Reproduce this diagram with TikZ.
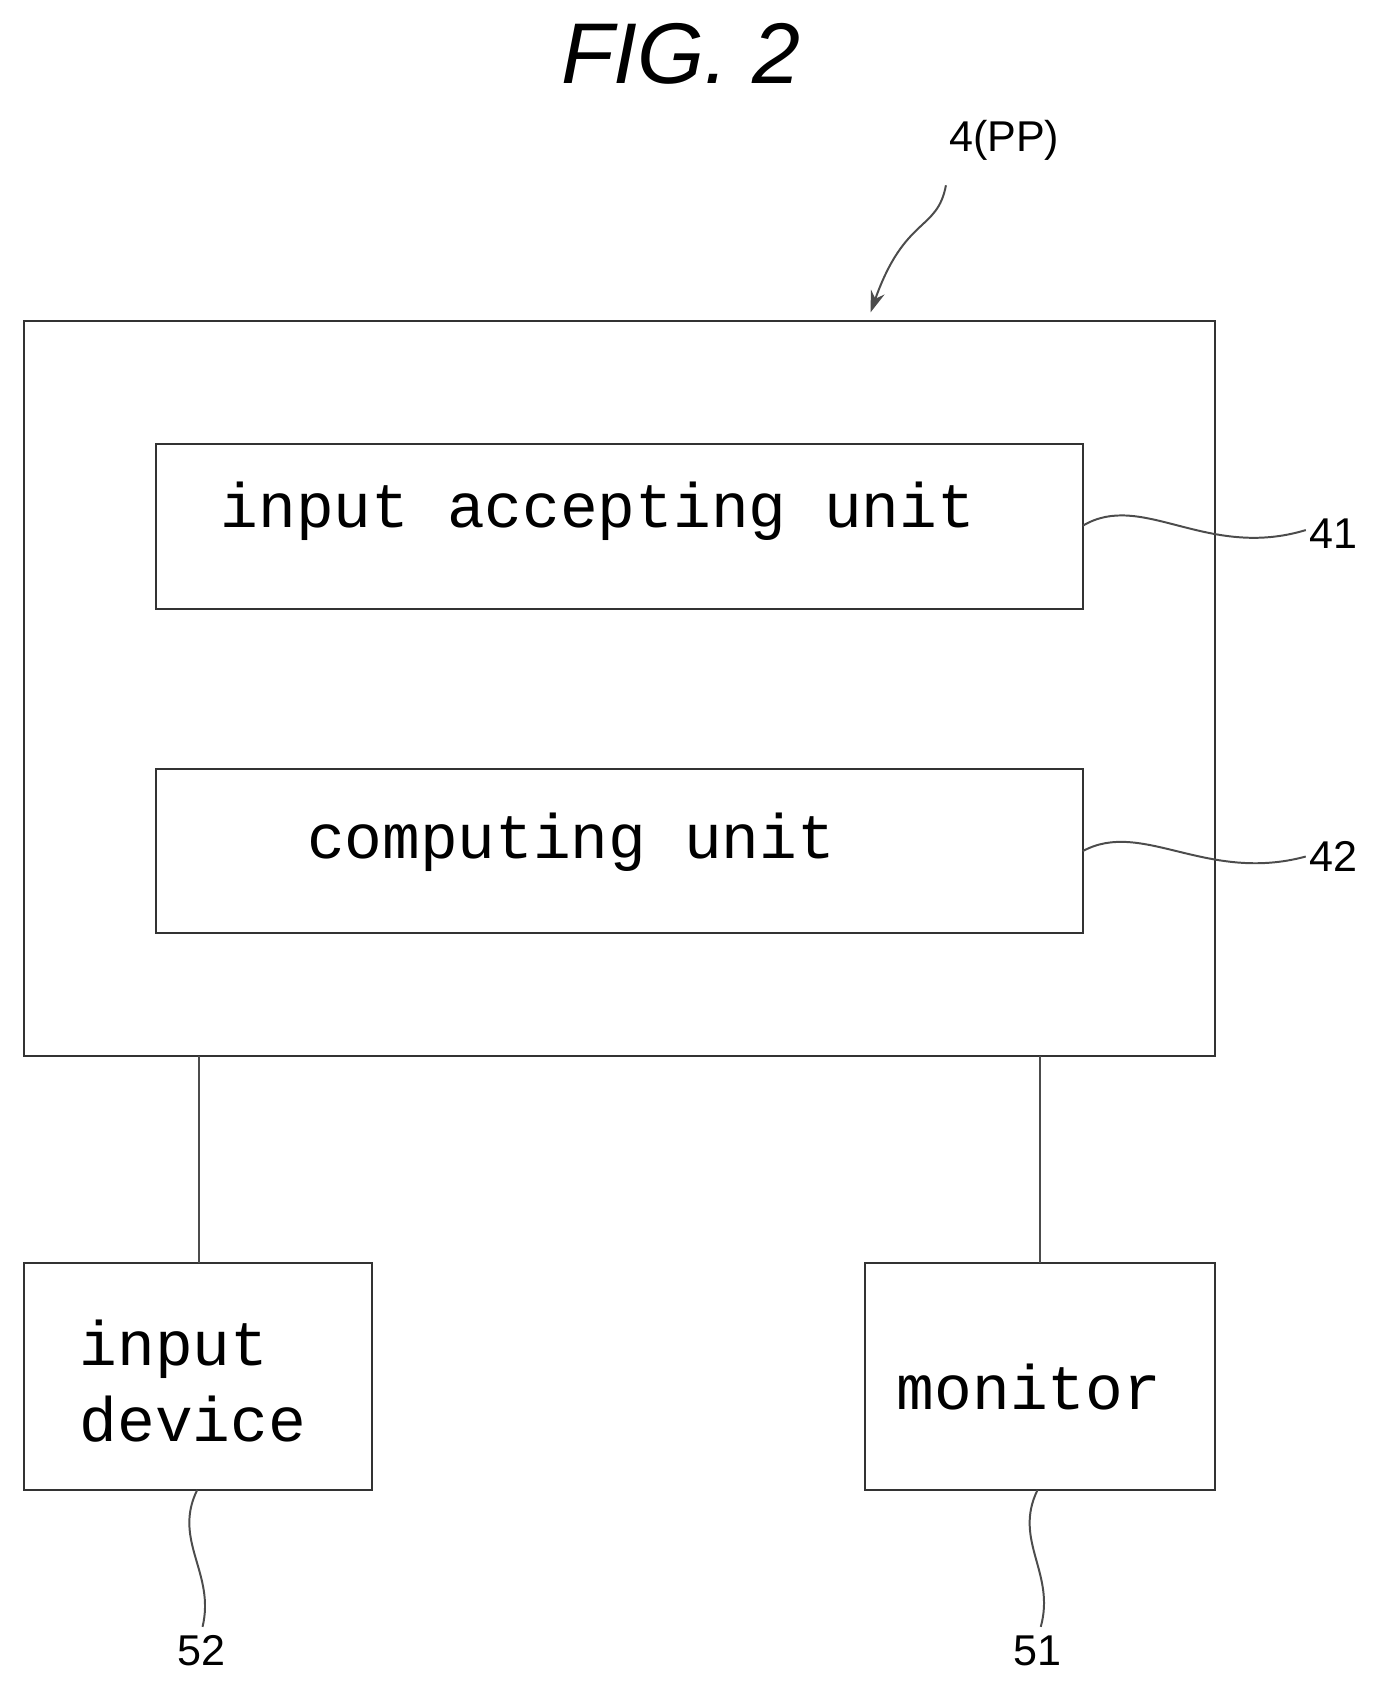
\documentclass[tikz,border=0pt]{standalone}
\usepackage{fontspec}
\setmainfont{Liberation Sans}
\setmonofont{Liberation Mono}
\usetikzlibrary{arrows.meta}
\begin{document}
\begin{tikzpicture}[x=0.6pt,y=-0.6pt,
  box/.style={draw=black!80,line width=1.3pt},
  ln/.style={draw=black!70,line width=1.1pt},
  mono/.style={font=\fontsize{35}{42}\selectfont\ttfamily},
  lab/.style={font=\fontsize{24}{28}\selectfont}]
\useasboundingbox (0,0) rectangle (1280,1564);
\node[font=\fontsize{48}{56}\selectfont\itshape] (title) at (632,50) {FIG. 2};
\draw[box] (22,298) rectangle (1128,980);
\coordinate (outer) at (808,290);
\draw[box] (145,412) rectangle (1005,565);
\node[mono] (t41) at (555,475) {input accepting unit};
\draw[box] (145,714) rectangle (1005,866);
\node[mono] (t42) at (530,782) {computing unit};
\draw[box] (22,1172) rectangle (345,1383);
\node[mono,align=left,anchor=west] (t52) at (68,1282) {input\\device};
\draw[box] (803,1172) rectangle (1128,1383);
\node[mono] (t51) at (955,1287) {monitor};
\node[lab] (l4) at (932,130) {4(PP)};
\node[lab] (l41) at (1238,495) {41};
\node[lab] (l42) at (1238,795) {42};
\node[lab] (l52) at (187,1532) {52};
\node[lab] (l51) at (963,1532) {51};
\coordinate (a41) at (1005,488);
\coordinate (a42) at (1005,790);
\coordinate (a52) at (183,1383);
\coordinate (a51) at (963,1383);
\coordinate (c1) at (185,980); \coordinate (c2) at (185,1172);
\coordinate (c3) at (965,980); \coordinate (c4) at (965,1172);
\draw[ln] (c1)--(c2);
\draw[ln] (c3)--(c4);
\draw[ln,-{Stealth[length=12pt,width=8pt]}] (878,172) .. controls (870,215) and (840,200) .. (outer);
\draw[ln] (a41) .. controls (1060,455) and (1120,520) .. (1212,492);
\draw[ln] (a42) .. controls (1060,760) and (1120,820) .. (1212,795);
\draw[ln] (a52) .. controls (160,1430) and (200,1460) .. (188,1510);
\draw[ln] (a51) .. controls (940,1430) and (980,1460) .. (966,1510);
\end{tikzpicture}
\end{document}
